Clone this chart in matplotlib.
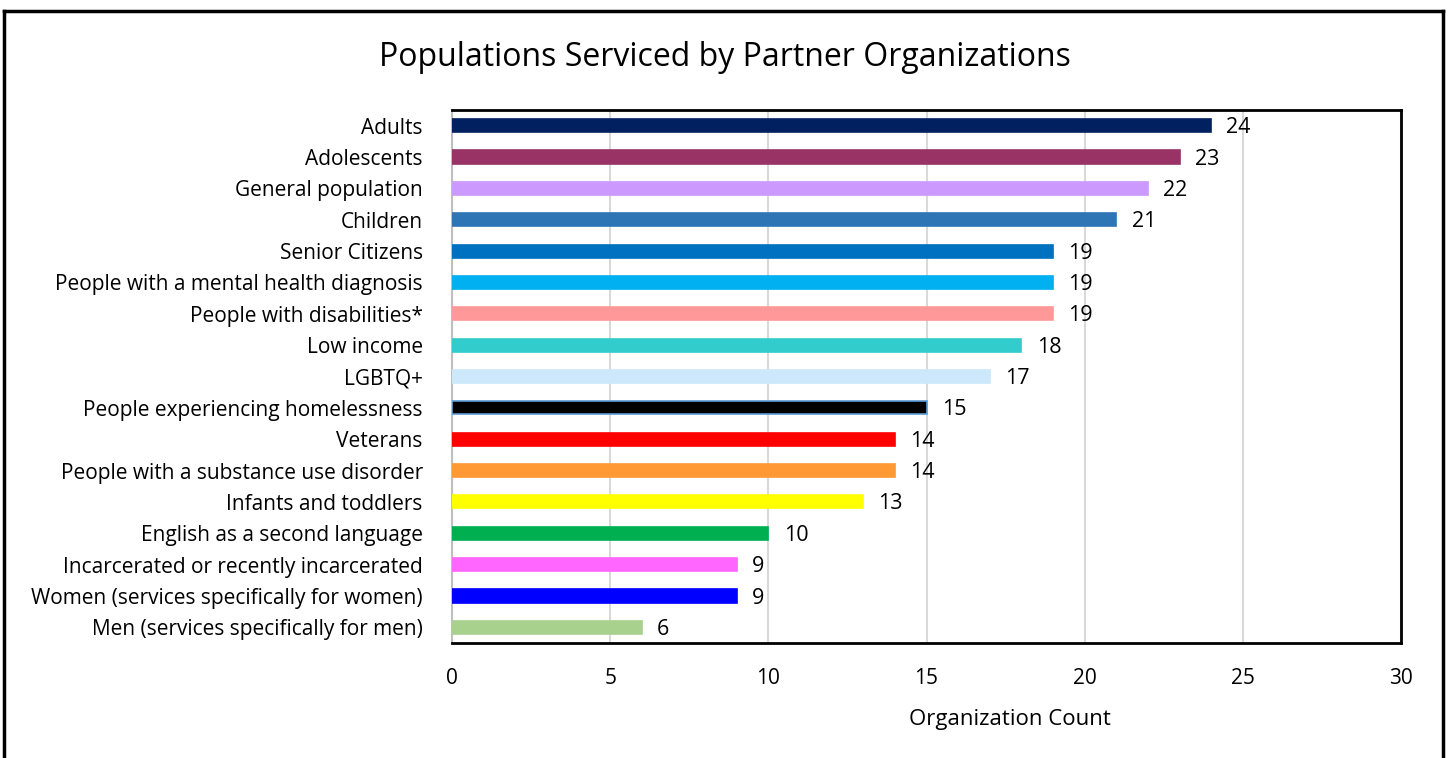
import matplotlib
matplotlib.use("Agg")
import matplotlib.pyplot as plt
from matplotlib.lines import Line2D

categories = [
    "Adults", "Adolescents", "General population", "Children", "Senior Citizens",
    "People with a mental health diagnosis", "People with disabilities*", "Low income",
    "LGBTQ+", "People experiencing homelessness", "Veterans",
    "People with a substance use disorder", "Infants and toddlers",
    "English as a second language", "Incarcerated or recently incarcerated",
    "Women (services specifically for women)", "Men (services specifically for men)",
]
values = [24, 23, 22, 21, 19, 19, 19, 18, 17, 15, 14, 14, 13, 10, 9, 9, 6]
colors = ["#002060", "#993366", "#CC99FF", "#2E75B6", "#0070C0", "#00B0F0", "#FF9999",
          "#33CCCC", "#CCE8FA", "#000000", "#FF0000", "#FF9933", "#FFFF00", "#00B050",
          "#FF66FF", "#0000FF", "#A9D18E"]
edgecolors = [c if c != "#000000" else "#5B9BD5" for c in colors]
xticks = [0, 5, 10, 15, 20, 25, 30]

W, H = 1448, 758
fig = plt.figure(figsize=(W / 100, H / 100), dpi=100)
ax = fig.add_axes([452 / W, 1 - 643 / H, (1401 - 452) / W, (643 - 110) / H])

ypos = list(range(len(categories)))
ax.barh(ypos, values, height=0.42, color=colors, edgecolor=edgecolors, linewidth=1.2, zorder=3)
for y, v in zip(ypos, values):
    ax.annotate(str(v), (v, y), xytext=(11, -1.5), textcoords="offset points",
                va="center", ha="left", fontsize=15.5, family="Open Sans", color="#000000")

ax.set_ylim(len(categories) - 0.5, -0.5)
ax.set_xlim(0, 30)
ax.set_xticks(xticks)
ax.set_xticklabels([str(t) for t in xticks], fontsize=15, family="Open Sans")
ax.set_yticks(ypos)
ax.set_yticklabels(categories, fontsize=15, family="Open Sans")
ax.tick_params(axis="both", length=0)
ax.tick_params(axis="x", pad=18)
ax.tick_params(axis="y", pad=21)
ax.grid(axis="x", color="#D9D9D9", linewidth=1.5, zorder=0)
for s in ["top", "right", "bottom"]:
    ax.spines[s].set_linewidth(2)
    ax.spines[s].set_color("#000000")
ax.spines["left"].set_color("#BFBFBF")
ax.spines["left"].set_linewidth(1.5)

fig.text(725 / W, 1 - 58 / H, "Populations Serviced by Partner Organizations",
         ha="center", va="center", fontsize=23, family="Open Sans")
fig.text(1010 / W, 1 - 720 / H, "Organization Count", ha="center", va="center",
         fontsize=16, family="Open Sans")

# outer frame
lw = 2.5
fig.add_artist(Line2D([4 / W, 4 / W], [0, 1 - 11 / H], transform=fig.transFigure, color="black", lw=lw))
fig.add_artist(Line2D([4 / W, 1443 / W], [1 - 11 / H, 1 - 11 / H], transform=fig.transFigure, color="black", lw=lw))
fig.add_artist(Line2D([1443 / W, 1443 / W], [0, 1 - 11 / H], transform=fig.transFigure, color="black", lw=lw))

fig.savefig("out.png", dpi=100, facecolor="white")
